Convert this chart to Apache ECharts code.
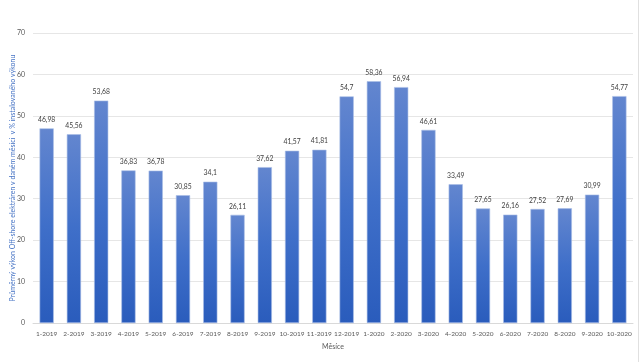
<!DOCTYPE html>
<html><head><meta charset="utf-8">
<script src="https://cdn.jsdelivr.net/npm/echarts@6/dist/echarts.min.js"></script>
<style>html,body{margin:0;padding:0;background:#fff}#c{width:640px;height:362px}</style>
</head><body><div id="c"></div>
<script>
const categories = ["1-2019","2-2019","3-2019","4-2019","5-2019","6-2019","7-2019","8-2019","9-2019","10-2019","11-2019","12-2019","1-2020","2-2020","3-2020","4-2020","5-2020","6-2020","7-2020","8-2020","9-2020","10-2020"];
const values = [46.98,45.56,53.68,36.83,36.78,30.85,34.1,26.11,37.62,41.57,41.81,54.7,58.36,56.94,46.61,33.49,27.65,26.16,27.52,27.69,30.99,54.77];
const yTicks = [0,10,20,30,40,50,60,70];

const chart = echarts.init(document.getElementById('c'), null, {renderer:'canvas'});
const font = 'Lato, sans-serif';
chart.setOption({
  animation:false,
  textStyle:{fontFamily:font},
  grid:{left:33,right:7,top:33,bottom:39,containLabel:false,outerBoundsMode:'none'},
  xAxis:{
    type:'category', data:categories,
    name:'Měsíce', nameLocation:'middle', nameGap:20, nameMoveOverlap:false,
    nameTextStyle:{color:'#595959', fontSize:7, fontFamily:font},
    axisLine:{lineStyle:{color:'#d9d9d9'}},
    axisTick:{show:false},
    axisLabel:{color:'#595959', fontSize:6.5, interval:0, margin:7, fontFamily:font}
  },
  yAxis:{
    type:'value', min:0, max:70, interval:10,
    name:'Průměrný výkon Off-shore elektráren v daném měsíci  v % instalovaného výkonu',
    nameLocation:'middle', nameGap:17, nameRotate:90, nameMoveOverlap:false,
    nameTextStyle:{color:'#4472c4', fontSize:7, fontFamily:font},
    axisLine:{show:false}, axisTick:{show:false},
    axisLabel:{color:'#595959', fontSize:7, margin:8, fontFamily:font,
      formatter:v=>yTicks.includes(v)?String(v):''},
    splitLine:{lineStyle:{color:'#e6e6e6'}}
  },
  series:[{
    type:'bar', data:values, barCategoryGap:'48%',
    itemStyle:{
      color:new echarts.graphic.LinearGradient(0,0,0,1,[
        {offset:0,color:'#6386cf'},{offset:0.5,color:'#3f6fc9'},{offset:1,color:'#2a5cbc'}]),
      borderColor:'#a9bde6', borderWidth:0.6
    },
    label:{show:true, position:'top', distance:5, color:'#404040', fontSize:6.8, fontFamily:font,
      formatter:p=>String(p.value).replace('.',',')}
  }],
  graphic:[{type:'line', shape:{x1:638.5,y1:0,x2:638.5,y2:362}, style:{stroke:'#e0e0e0', lineWidth:1}}]
});
</script></body></html>
